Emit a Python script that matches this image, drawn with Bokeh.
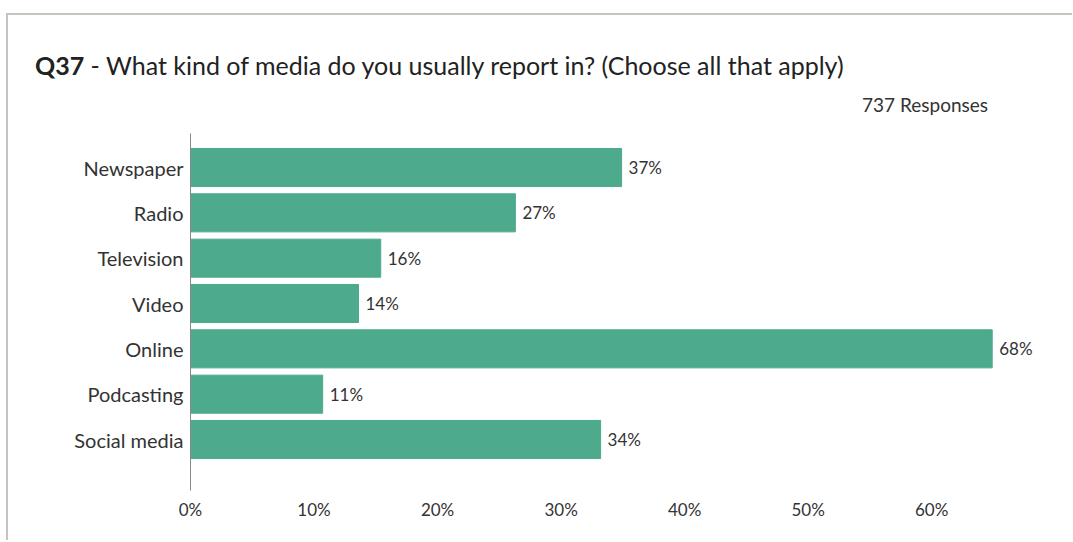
from bokeh.plotting import figure
from bokeh.models import Range1d, FixedTicker, ColumnDataSource, Div
from bokeh.layouts import column
from bokeh.core.properties import value
from bokeh.embed import file_html
from bokeh.resources import INLINE

categories = ["Newspaper", "Radio", "Television", "Video", "Online", "Podcasting", "Social media"]
bar_values = [34.9, 26.3, 15.4, 13.6, 64.9, 10.7, 33.2]
bar_labels = ["37%", "27%", "16%", "14%", "68%", "11%", "34%"]
x_ticks = [0, 10, 20, 30, 40, 50, 60]
x_tick_labels = ["0%", "10%", "20%", "30%", "40%", "50%", "60%"]
title_bold = "Q37"
title_rest = "- What kind of media do you usually report in? (Choose all that apply)"
responses = "737 Responses"

FONT = "Lato"
TXT = "#333333"
W = 1064
HEAD_H = 100
PLOT_H = 425

header_html = (
    f'<div style="position:relative;width:{W}px;height:{HEAD_H}px;font-family:{FONT};">'
    f'<div style="position:absolute;left:27px;top:35px;font-size:25px;line-height:30px;'
    f'white-space:nowrap;color:#222222;"><b>{title_bold}</b> {title_rest}</div>'
    f'<div style="position:absolute;right:{W - 980}px;top:78px;font-size:19px;line-height:23px;'
    f'white-space:nowrap;color:{TXT};">{responses}</div>'
    f'</div>'
)
header = Div(text=header_html, width=W, height=HEAD_H, margin=0)

ys = list(range(len(categories)))
src = ColumnDataSource(dict(y=ys, v=bar_values, lab=bar_labels))

p = figure(width=W, height=PLOT_H, output_backend="svg", toolbar_location=None,
           x_range=Range1d(0, 71.4), y_range=Range1d(len(categories) - 1 + 1.125, -0.75),
           min_border_left=182, min_border_top=18, min_border_bottom=50, min_border_right=0)
p.margin = 0
p.outline_line_color = None
p.xgrid.grid_line_color = None
p.ygrid.grid_line_color = None

p.hbar(y="y", right="v", left=0, height=0.84, color="#4eaa8c", source=src)
p.text(x="v", y="y", text="lab", source=src, x_offset=7, text_baseline="middle",
       text_align="left", text_font=value(FONT), text_font_size="17px", text_color=TXT)

p.yaxis.ticker = FixedTicker(ticks=ys)
p.yaxis.major_label_overrides = {i: c for i, c in zip(ys, categories)}
p.yaxis.axis_line_color = "#888888"
p.yaxis.major_tick_line_color = None
p.yaxis.minor_tick_line_color = None
p.yaxis.major_tick_out = 0
p.yaxis.major_label_standoff = 7
p.yaxis.major_label_text_font = FONT
p.yaxis.major_label_text_font_size = "20px"
p.yaxis.major_label_text_color = TXT

p.xaxis.ticker = FixedTicker(ticks=x_ticks)
p.xaxis.major_label_overrides = {t: l for t, l in zip(x_ticks, x_tick_labels)}
p.xaxis.axis_line_color = None
p.xaxis.major_tick_line_color = None
p.xaxis.minor_tick_line_color = None
p.xaxis.major_tick_out = 0
p.xaxis.major_label_standoff = 8
p.xaxis.major_label_text_font = FONT
p.xaxis.major_label_text_font_size = "17px"
p.xaxis.major_label_text_color = TXT

layout = column(header, p, spacing=0)
layout.styles = {"border-top": "2px solid #c9c3bd", "border-left": "2px solid #c9c3bd",
                 "margin-top": "13px", "margin-left": "6px"}

open("out.html", "w").write(file_html(layout, INLINE))
